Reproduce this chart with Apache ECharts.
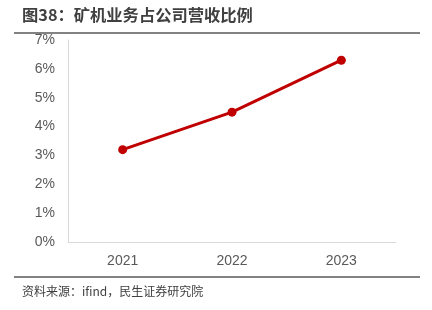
<!DOCTYPE html>
<html><head><meta charset="utf-8">
<script src="https://cdn.jsdelivr.net/npm/echarts@6/dist/echarts.min.js"></script>
<style>html,body{margin:0;padding:0;background:#fff}#c{width:432px;height:310px}</style>
</head><body><div id="c"></div>
<script>
const categories = ['2021', '2022', '2023'];
const shareValues = [3.2, 4.5, 6.3];
const yTicks = [0, 1, 2, 3, 4, 5, 6, 7];
const titleText = '图38：矿机业务占公司营收比例';
const sourceText = '资料来源：ifind，民生证券研究院';

const chart = echarts.init(document.getElementById('c'), null, {renderer: 'canvas'});
chart.setOption({
  animation: false,
  backgroundColor: '#fff',
  grid: {left: 68, right: 36, top: 40, bottom: 68},
  graphic: [
    {type: 'text', left: 22, top: 7, style: {text: titleText, font: 'bold 16.3px "Noto Sans CJK SC"', fill: '#404040'}},
    {type: 'line', shape: {x1: 14, y1: 33, x2: 420, y2: 33}, style: {stroke: '#595959', lineWidth: 1.5}},
    {type: 'line', shape: {x1: 14, y1: 277, x2: 420, y2: 277}, style: {stroke: '#595959', lineWidth: 1.5}},
    {type: 'text', left: 22, top: 285, style: {text: sourceText, font: '12px "Noto Sans CJK SC"', fill: '#404040'}}
  ],
  xAxis: {
    type: 'category',
    data: categories,
    boundaryGap: true,
    axisLine: {lineStyle: {color: '#d9d9d9', width: 1}},
    axisTick: {show: false},
    axisLabel: {color: '#595959', fontSize: 14, margin: 12, fontFamily: 'Liberation Sans'}
  },
  yAxis: {
    type: 'value',
    min: yTicks[0],
    max: yTicks[yTicks.length - 1],
    interval: 1,
    axisLine: {show: true, lineStyle: {color: '#d9d9d9', width: 1}},
    axisTick: {show: false},
    splitLine: {show: false},
    axisLabel: {color: '#595959', fontSize: 14, margin: 13, fontFamily: 'Liberation Sans', formatter: v => v + '%'}
  },
  series: [{
    type: 'line',
    data: shareValues,
    symbol: 'circle',
    symbolSize: 9,
    lineStyle: {color: '#C00000', width: 3},
    itemStyle: {color: '#C00000'}
  }]
});
</script></body></html>
